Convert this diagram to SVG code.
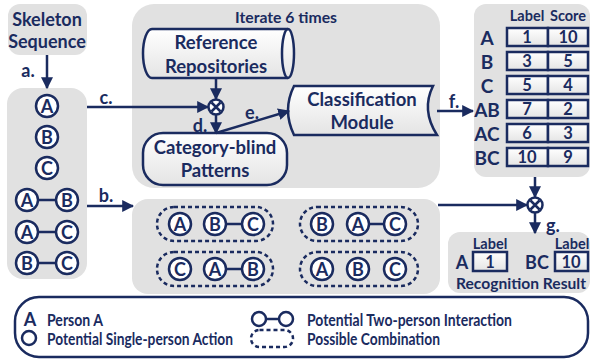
<svg xmlns="http://www.w3.org/2000/svg" width="592" height="362" viewBox="0 0 592 362">
<defs>
<linearGradient id="ng" x1="0" y1="0" x2="0" y2="1"><stop offset="0" stop-color="#ffffff"/><stop offset="1" stop-color="#e4e4e4"/></linearGradient>
<marker id="ah" viewBox="0 0 10 10" refX="9" refY="5" markerWidth="12" markerHeight="12" markerUnits="userSpaceOnUse" orient="auto"><path d="M0,0 L10,5 L0,10 z" fill="#1a2b5f"/></marker>
<style>
text{font-family:Lato,"Open Sans","Liberation Sans",sans-serif;font-weight:700;fill:#1a2b5f;text-anchor:middle;dominant-baseline:central}
.panel{fill:#e1e1e1}
.node{fill:url(#ng);stroke:#1a2b5f;stroke-width:2.5}
.c{fill:#fff;stroke:#1a2b5f;stroke-width:2.5}
.ln{stroke:#1a2b5f;stroke-width:2.5;fill:none}
.arr{stroke:#1a2b5f;stroke-width:2.5;fill:none;marker-end:url(#ah)}
.dash{fill:none;stroke:#1a2b5f;stroke-width:2.5;stroke-dasharray:4 3}
.cell{fill:url(#ng);stroke:#1a2b5f;stroke-width:2.5}
.big{font-size:18px}
.nd{font-size:18.5px}
.rl{font-size:19px}
.rr{font-size:18px}
.ct{font-size:16.5px}
.cl{font-size:18px}
.sm{font-size:14.5px}
.rs{font-size:16px}
.lg{font-size:17.5px;text-anchor:start}
</style>
</defs>

<g id="skeleton">
<rect class="panel" x="8" y="4" width="79" height="51" rx="12"/>
<text class="big" x="47" y="19">Skeleton</text>
<text class="big" x="47" y="41">Sequence</text>
</g>

<g id="iterate">
<rect class="panel" x="132" y="4" width="308" height="184" rx="22"/>
<text class="sm" x="286" y="17" textLength="102" lengthAdjust="spacingAndGlyphs">Iterate 6 times</text>
</g>

<g id="candidates">
<rect class="panel" x="7" y="88" width="80" height="191" rx="16"/>
<line class="ln" x1="27" y1="200" x2="67" y2="200"/>
<line class="ln" x1="27" y1="232" x2="67" y2="232"/>
<line class="ln" x1="27" y1="263" x2="67" y2="263"/>
<circle class="c" cx="47" cy="106" r="11"/><text class="cl" x="47" y="106">A</text>
<circle class="c" cx="47" cy="137" r="11"/><text class="cl" x="47" y="137">B</text>
<circle class="c" cx="47" cy="168" r="11"/><text class="cl" x="47" y="168">C</text>
<circle class="c" cx="27" cy="200" r="11"/><text class="cl" x="27" y="200">A</text>
<circle class="c" cx="67" cy="200" r="11"/><text class="cl" x="67" y="200">B</text>
<circle class="c" cx="27" cy="232" r="11"/><text class="cl" x="27" y="232">A</text>
<circle class="c" cx="67" cy="232" r="11"/><text class="cl" x="67" y="232">C</text>
<circle class="c" cx="27" cy="263" r="11"/><text class="cl" x="27" y="263">B</text>
<circle class="c" cx="67" cy="263" r="11"/><text class="cl" x="67" y="263">C</text>
</g>

<g id="repositories">
<path class="node" d="M152 29 H288 A6 24.5 0 0 1 288 78 H152 A9 24.5 0 0 1 152 29 Z"/>
<path class="ln" d="M288 29 A6 24.5 0 0 0 288 78"/>
<text class="nd" x="216" y="42">Reference</text>
<text class="nd" x="216" y="66">Repositories</text>
</g>

<g id="patterns">
<rect class="node" x="143" y="133" width="144" height="52" rx="20"/>
<text class="nd" x="215" y="147">Category-blind</text>
<text class="nd" x="215" y="170">Patterns</text>
</g>

<g id="classification">
<path class="node" d="M294 86 H433 Q421 110 437 135 H294 Q282 110 294 86 Z"/>
<text class="nd" x="362" y="99">Classification</text>
<text class="nd" x="362" y="122">Module</text>
</g>

<g id="table">
<rect class="panel" x="474" y="4" width="116" height="173" rx="12"/>
<text class="sm" x="527" y="15">Label</text>
<text class="sm" x="568" y="15">Score</text>
<g class="rows">
<rect class="cell" x="507" y="28" width="41" height="18"/><rect class="cell" x="548" y="28" width="40" height="18"/>
<rect class="cell" x="507" y="52" width="41" height="18"/><rect class="cell" x="548" y="52" width="40" height="18"/>
<rect class="cell" x="507" y="76" width="41" height="18"/><rect class="cell" x="548" y="76" width="40" height="18"/>
<rect class="cell" x="507" y="100" width="41" height="18"/><rect class="cell" x="548" y="100" width="40" height="18"/>
<rect class="cell" x="507" y="124" width="41" height="18"/><rect class="cell" x="548" y="124" width="40" height="18"/>
<rect class="cell" x="507" y="148" width="41" height="18"/><rect class="cell" x="548" y="148" width="40" height="18"/>
</g>
<text class="rl" x="487" y="37">A</text><text class="ct" x="527" y="37">1</text><text class="ct" x="568" y="37">10</text>
<text class="rl" x="487" y="61">B</text><text class="ct" x="527" y="61">3</text><text class="ct" x="568" y="61">5</text>
<text class="rl" x="487" y="85">C</text><text class="ct" x="527" y="85">5</text><text class="ct" x="568" y="85">4</text>
<text class="rl" x="487" y="109">AB</text><text class="ct" x="527" y="109">7</text><text class="ct" x="568" y="109">2</text>
<text class="rl" x="487" y="133">AC</text><text class="ct" x="527" y="133">6</text><text class="ct" x="568" y="133">3</text>
<text class="rl" x="487" y="157">BC</text><text class="ct" x="527" y="157">10</text><text class="ct" x="568" y="157">9</text>
</g>

<g id="combinations">
<rect class="panel" x="132" y="199" width="308" height="95" rx="16"/>
<rect class="dash" x="157" y="207" width="116" height="34" rx="17"/>
<rect class="dash" x="157" y="252" width="116" height="34" rx="17"/>
<rect class="dash" x="300" y="207" width="118" height="34" rx="17"/>
<rect class="dash" x="300" y="252" width="118" height="34" rx="17"/>
<line class="ln" x1="215" y1="224" x2="253" y2="224"/>
<line class="ln" x1="215" y1="269" x2="253" y2="269"/>
<line class="ln" x1="358" y1="224" x2="395" y2="224"/>
<circle class="c" cx="180" cy="224" r="11"/><text class="cl" x="180" y="224">A</text>
<circle class="c" cx="215" cy="224" r="11"/><text class="cl" x="215" y="224">B</text>
<circle class="c" cx="253" cy="224" r="11"/><text class="cl" x="253" y="224">C</text>
<circle class="c" cx="180" cy="269" r="11"/><text class="cl" x="180" y="269">C</text>
<circle class="c" cx="215" cy="269" r="11"/><text class="cl" x="215" y="269">A</text>
<circle class="c" cx="253" cy="269" r="11"/><text class="cl" x="253" y="269">B</text>
<circle class="c" cx="322" cy="224" r="11"/><text class="cl" x="322" y="224">B</text>
<circle class="c" cx="358" cy="224" r="11"/><text class="cl" x="358" y="224">A</text>
<circle class="c" cx="395" cy="224" r="11"/><text class="cl" x="395" y="224">C</text>
<circle class="c" cx="322" cy="269" r="11"/><text class="cl" x="322" y="269">A</text>
<circle class="c" cx="358" cy="269" r="11"/><text class="cl" x="358" y="269">B</text>
<circle class="c" cx="395" cy="269" r="11"/><text class="cl" x="395" y="269">C</text>
</g>

<g id="result">
<rect class="panel" x="448" y="232" width="142" height="61" rx="12"/>
<text class="sm" x="490" y="243">Label</text>
<text class="sm" x="572" y="243">Label</text>
<text class="rr" x="462" y="262">A</text>
<rect class="cell" x="473" y="252" width="34" height="19"/>
<text class="ct" x="490" y="262">1</text>
<text class="rr" x="537" y="262">BC</text>
<rect class="cell" x="555" y="252" width="33" height="19"/>
<text class="ct" x="571" y="262">10</text>
<text class="rs" x="521" y="282" textLength="130" lengthAdjust="spacingAndGlyphs">Recognition Result</text>
</g>

<g id="mult1">
<circle class="c" cx="216" cy="107" r="7.5" stroke-width="2"/>
<path class="ln" d="M211.5 102.5 L220.5 111.5 M220.5 102.5 L211.5 111.5" stroke-width="2"/>
</g>
<g id="mult2">
<circle class="c" cx="535" cy="205" r="7.5" stroke-width="2"/>
<path class="ln" d="M530.5 200.5 L539.5 209.5 M539.5 200.5 L530.5 209.5" stroke-width="2"/>
</g>

<g id="connectors">
<line class="arr" x1="47" y1="55" x2="47" y2="88"/>
<line class="arr" x1="87" y1="107" x2="208" y2="107"/>
<line class="arr" x1="216" y1="78" x2="216" y2="99"/>
<line class="arr" x1="216" y1="114.5" x2="216" y2="133"/>
<line class="arr" x1="216" y1="133" x2="289" y2="111"/>
<line class="arr" x1="437" y1="111" x2="473" y2="111"/>
<line class="arr" x1="87" y1="206" x2="133" y2="206"/>
<line class="arr" x1="438" y1="205" x2="527" y2="205"/>
<line class="arr" x1="535" y1="177" x2="535" y2="197"/>
<line class="arr" x1="535" y1="212.5" x2="535" y2="233"/>
<text class="big" x="28" y="70">a.</text>
<text class="big" x="106" y="195">b.</text>
<text class="big" x="106" y="97">c.</text>
<text class="big" x="200" y="125">d.</text>
<text class="big" x="252" y="112">e.</text>
<text class="big" x="454" y="101">f.</text>
<text class="big" x="553" y="225">g.</text>
</g>

<g id="legend">
<rect x="15" y="297" width="573" height="60" rx="24" fill="#fff" stroke="#1a2b5f" stroke-width="2.5"/>
<text class="cl" x="30" y="319">A</text>
<text class="lg" x="47" y="319" textLength="56" lengthAdjust="spacingAndGlyphs">Person A</text>
<circle class="c" cx="29" cy="338" r="7"/>
<text class="lg" x="47" y="338" textLength="186" lengthAdjust="spacingAndGlyphs">Potential Single-person Action</text>
<line class="ln" x1="259" y1="319" x2="286" y2="319"/>
<circle class="c" cx="259" cy="319" r="7"/>
<circle class="c" cx="286" cy="319" r="7"/>
<text class="lg" x="307" y="319" textLength="205" lengthAdjust="spacingAndGlyphs">Potential Two-person Interaction</text>
<rect class="dash" x="251" y="330" width="42" height="17" rx="8.5"/>
<text class="lg" x="307" y="338" textLength="133" lengthAdjust="spacingAndGlyphs">Possible Combination</text>
</g>
</svg>
